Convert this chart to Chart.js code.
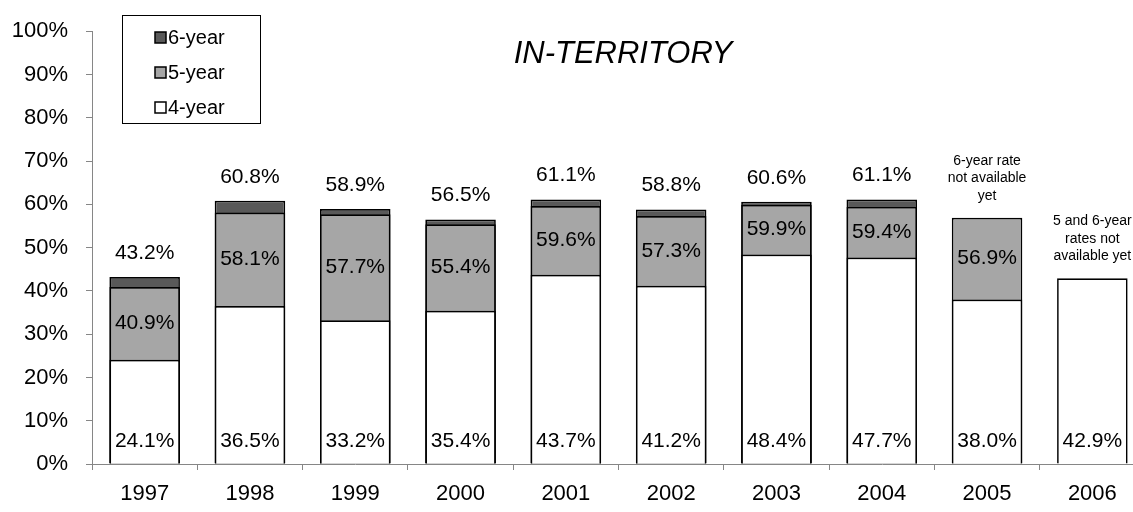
<!DOCTYPE html>
<html>
<head>
<meta charset="utf-8">
<script src="https://cdn.jsdelivr.net/npm/chart.js@4"></script>
<style>
  html, body { margin: 0; padding: 0; background: #fff; overflow: hidden; }
  #wrap { width: 1150px; height: 512px; position: relative; }
</style>
</head>
<body>
<div id="wrap"><canvas id="chart"></canvas></div>
<script>
  // values (cumulative rates, %)
  const years = ["1997", "1998", "1999", "2000", "2001", "2002", "2003", "2004", "2005", "2006"];
  const fourYear = [24.1, 36.5, 33.2, 35.4, 43.7, 41.2, 48.4, 47.7, 38.0, 42.9];
  const fiveYear = [40.9, 58.1, 57.7, 55.4, 59.6, 57.3, 59.9, 59.4, 56.9, null];
  const sixYear = [43.2, 60.8, 58.9, 56.5, 61.1, 58.8, 60.6, 61.1, null, null];
  const yTicks = [0, 10, 20, 30, 40, 50, 60, 70, 80, 90, 100];
  const notes = [null, null, null, null, null, null, null, null,
    ["6-year rate", "not available", "yet"],
    ["5 and 6-year", "rates not", "available yet"]];

  const FONT = "'Liberation Sans', Arial, sans-serif";
  const AXIS = "#868686";
  const colors = { six: "#595959", five: "#a6a6a6", four: "#ffffff" };

  const labelsPlugin = {
    id: "labels",
    afterDatasetsDraw(chart) {
      const ctx = chart.ctx;
      const m4 = chart.getDatasetMeta(0).data;
      const m5 = chart.getDatasetMeta(1).data;
      const m6 = chart.getDatasetMeta(2).data;
      ctx.save();
      ctx.fillStyle = "#000";
      ctx.textAlign = "center";
      ctx.textBaseline = "middle";
      ctx.font = "21px " + FONT;
      years.forEach((y, i) => {
        const b4 = m4[i];
        ctx.fillText(fourYear[i].toFixed(1) + "%", b4.x, b4.base - 22.5);
        let top = b4.y;
        if (fiveYear[i] != null) {
          const b5 = m5[i];
          ctx.fillText(fiveYear[i].toFixed(1) + "%", b5.x, (b4.y + b5.y) / 2);
          top = b5.y;
        }
        if (sixYear[i] != null) {
          const b6 = m6[i];
          ctx.fillText(sixYear[i].toFixed(1) + "%", b6.x, b6.y - 24);
          top = b6.y;
        }
        if (notes[i]) {
          ctx.font = "14px " + FONT;
          const n = notes[i].length;
          notes[i].forEach((line, k) => {
            ctx.fillText(line, b4.x, top - 22 - (n - 1 - k) * 17.5);
          });
          ctx.font = "21px " + FONT;
        }
      });

      // title
      ctx.font = "italic 31px " + FONT;
      ctx.fillText("IN-TERRITORY", 623, 54);

      // legend box
      ctx.strokeStyle = "#000";
      ctx.lineWidth = 1;
      ctx.strokeRect(122.5, 15.5, 138, 108);
      const items = [["6-year", colors.six], ["5-year", colors.five], ["4-year", colors.four]];
      ctx.font = "20px " + FONT;
      ctx.textAlign = "left";
      items.forEach(([txt, col], k) => {
        const cy = 37 + k * 35;
        ctx.fillStyle = col;
        ctx.fillRect(155, cy - 5, 11, 11);
        ctx.strokeStyle = "#000";
        ctx.lineWidth = 1.5;
        ctx.strokeRect(155, cy - 5, 11, 11);
        ctx.fillStyle = "#000";
        ctx.fillText(txt, 168, cy + 1);
      });
      ctx.restore();
    }
  };

  const barStyle = {
    borderColor: "#000",
    borderWidth: 1.7,
    grouped: false,
    barPercentage: 0.67,
    categoryPercentage: 1
  };

  new Chart(document.getElementById("chart"), {
    type: "bar",
    data: {
      labels: years,
      datasets: [
        Object.assign({ label: "4-year", data: fourYear, backgroundColor: colors.four }, barStyle),
        Object.assign({ label: "5-year", data: fiveYear, backgroundColor: colors.five }, barStyle),
        Object.assign({ label: "6-year", data: sixYear, backgroundColor: colors.six }, barStyle)
      ]
    },
    options: {
      responsive: true,
      maintainAspectRatio: false,
      devicePixelRatio: 1,
      animation: false,
      layout: { padding: { top: 20, right: 5, left: 0, bottom: 0 } },
      plugins: {
        legend: { display: false },
        tooltip: { enabled: false }
      },
      scales: {
        x: {
          grid: { drawOnChartArea: false, drawTicks: true, tickLength: 6, color: AXIS, offset: true },
          border: { display: true, color: AXIS, width: 1 },
          ticks: { color: "#000", font: { family: FONT, size: 22 }, padding: 11, maxRotation: 0 },
          afterFit(scale) { scale.height = 48; }
        },
        y: {
          min: 0,
          max: 100,
          grid: { drawOnChartArea: false, drawTicks: true, tickLength: 6, color: AXIS },
          border: { display: true, color: AXIS, width: 1 },
          afterBuildTicks(scale) { scale.ticks = yTicks.map(v => ({ value: v })); },
          ticks: {
            color: "#000",
            font: { family: FONT, size: 22 },
            padding: 18,
            callback: v => v + "%"
          },
          afterFit(scale) { scale.width = 92; }
        }
      }
    },
    plugins: [labelsPlugin]
  });
</script>
</body>
</html>
